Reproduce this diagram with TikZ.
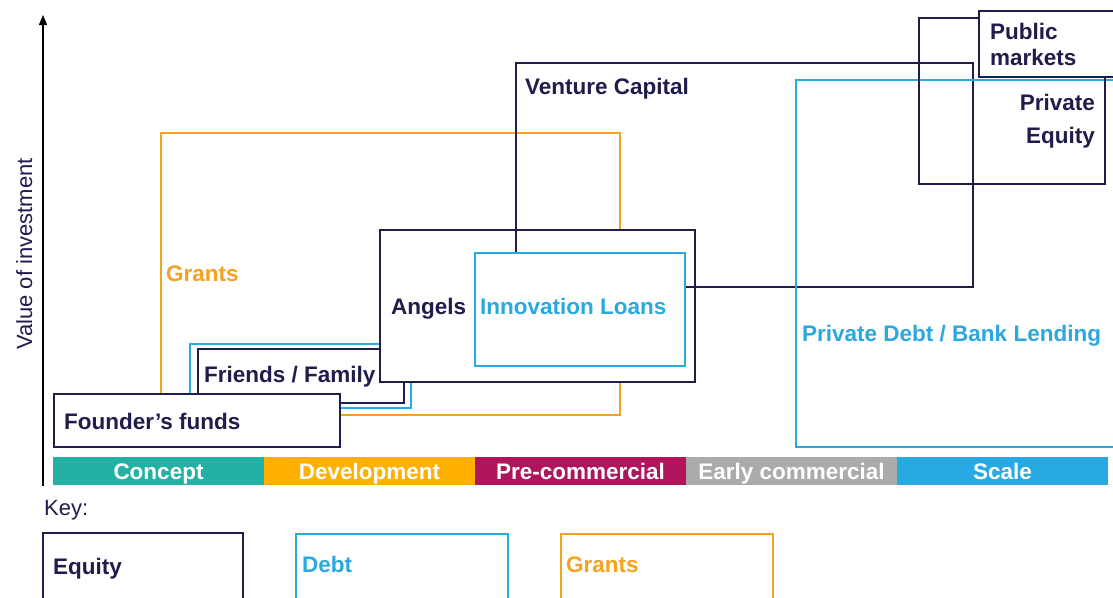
\documentclass[tikz,border=0pt]{standalone}
\usepackage{fontspec}
\setmainfont{Liberation Sans}
\usetikzlibrary{arrows.meta}
\definecolor{navy}{HTML}{201C4C}
\definecolor{sky}{HTML}{2AA8E0}
\definecolor{amber}{HTML}{F5A21E}
\definecolor{concept}{HTML}{22B1A4}
\definecolor{develop}{HTML}{FFB000}
\definecolor{precom}{HTML}{B0155C}
\definecolor{early}{HTML}{ABABAB}
\definecolor{scalec}{HTML}{29A9E1}
\tikzset{
  box/.style={draw, line width=1.8pt, inner sep=0pt, outer sep=0pt, anchor=north west},
  eqbox/.style={box, draw=navy},
  dtbox/.style={box, draw=sky},
  grbox/.style={box, draw=amber},
  lbl/.style={font=\fontsize{22.5}{27}\selectfont\bfseries, inner sep=0pt, anchor=base west, text=navy},
  plain/.style={font=\fontsize{22}{26}\selectfont, inner sep=0pt, anchor=base west, text=navy},
  phase/.style={anchor=north west, inner sep=0pt, outer sep=0pt, minimum height=28pt, minimum width=211pt,
    text height=16pt, text depth=0pt, text=white, font=\fontsize{22.5}{27}\selectfont\bfseries}
}
\begin{document}
\begin{tikzpicture}[x=1pt,y=-1pt]
\clip (0,0) rectangle (1113,597);
\fill[white] (0,0) rectangle (1113,597);
% axis
\coordinate (ax0) at (43,486);
\coordinate (ax1) at (43,15);
\draw[line width=1.4pt, -{Triangle[length=10pt,width=8pt]}] (ax0) -- (ax1);
\node[plain, rotate=90] (ylabel) at (32,350) {Value of investment};
% phase bar
\node[phase, fill=concept] (p1) at (53,457) {Concept};
\node[phase, fill=develop] (p2) at (264,457) {Development};
\node[phase, fill=precom] (p3) at (475,457) {Pre-commercial};
\node[phase, fill=early] (p4) at (686,457) {Early commercial};
\node[phase, fill=scalec] (p5) at (897,457) {Scale};
% grants
\node[grbox, minimum width=459pt, minimum height=282pt] (grants) at (161,133) {};
\node[lbl, text=amber] (grantsl) at (166,281) {Grants};
% friends / family
\node[dtbox, fill=white, minimum width=221pt, minimum height=64pt] (ffdebt) at (190,344) {};
\node[eqbox, fill=white, minimum width=206pt, minimum height=54pt] (ff) at (198,349) {};
\node[lbl] (ffl) at (204,382) {Friends / Family};
% founder
\node[eqbox, fill=white, minimum width=286pt, minimum height=53pt] (founder) at (54,394) {};
\node[lbl] (founderl) at (64,429) {Founder’s funds};
% angels
\node[eqbox, fill=white, minimum width=315pt, minimum height=152pt] (angels) at (380,230) {};
\node[lbl] (angelsl) at (391,314) {Angels};
% venture capital
\node[eqbox, minimum width=457pt, minimum height=224pt] (vc) at (516,63) {};
\node[lbl] (vcl) at (525,94) {Venture Capital};
% innovation loans
\node[dtbox, fill=white, minimum width=210pt, minimum height=113pt] (il) at (475,253) {};
\node[lbl, text=sky] (ill) at (480,314) {Innovation Loans};
% private debt
\node[dtbox, minimum width=330pt, minimum height=367pt] (pd) at (796,80) {};
\node[lbl, text=sky] (pdl) at (802,341) {Private Debt / Bank Lending};
% private equity
\node[eqbox, minimum width=186pt, minimum height=166pt] (pe) at (919,18) {};
\node[lbl, anchor=base east] (pel1) at (1095,110) {Private};
\node[lbl, anchor=base east] (pel2) at (1095,143) {Equity};
% public markets
\node[eqbox, fill=white, minimum width=150pt, minimum height=66pt] (pm) at (979,11) {};
\node[lbl] (pml1) at (990,39) {Public};
\node[lbl] (pml2) at (990,65) {markets};
% key
\node[plain] (key) at (44,515) {Key:};
\node[eqbox, minimum width=200pt, minimum height=90pt] (keq) at (43,533) {};
\node[lbl] (keql) at (53,574) {Equity};
\node[dtbox, minimum width=212pt, minimum height=90pt] (kdt) at (296,534) {};
\node[lbl, text=sky] (kdtl) at (302,572) {Debt};
\node[grbox, minimum width=212pt, minimum height=90pt] (kgr) at (561,534) {};
\node[lbl, text=amber] (kgrl) at (566,572) {Grants};
\end{tikzpicture}
\end{document}
